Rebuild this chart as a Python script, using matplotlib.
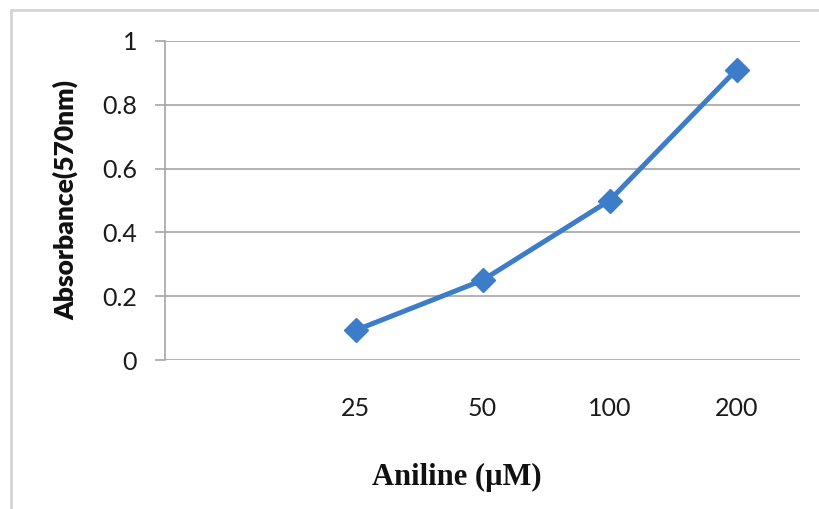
import matplotlib.pyplot as plt
from matplotlib.patches import Rectangle

# data (first category slot is empty)
categories = ['', '25', '50', '100', '200']
absorbance = [None, 0.093, 0.25, 0.50, 0.91]
y_ticks = [0, 0.2, 0.4, 0.6, 0.8, 1]
y_tick_labels = ['0', '0.2', '0.4', '0.6', '0.8', '1']

W, H = 819, 509
fig = plt.figure(figsize=(W / 100, H / 100), dpi=100)

# light frame of the chart area (open on right and bottom)
fig.patches.append(Rectangle((11 / W, -0.1), 1.2, (H - 10) / H + 0.1,
                             transform=fig.transFigure, fill=False,
                             edgecolor='#d4d4d4', linewidth=2))

left, right, top, bottom = 165, 800, 41, 360
ax = fig.add_axes([left / W, (H - bottom) / H, (right - left) / W, (bottom - top) / H])

xs = [i + 0.5 for i, v in enumerate(absorbance) if v is not None]
ys = [v for v in absorbance if v is not None]
ax.plot(xs, ys, color='#3d7cc9', linewidth=3.6, marker='D', markersize=12,
        markerfacecolor='#3d7cc9', markeredgecolor='#3d7cc9', zorder=3)

ax.set_xlim(0, len(categories))
ax.set_ylim(0, 1)
ax.set_yticks(y_ticks)
ax.set_yticklabels(y_tick_labels, fontfamily='Lato', fontsize=18, color='#1a1a1a')
ax.set_xticks([i + 0.5 for i in range(len(categories))])
ax.set_xticklabels(categories, fontfamily='Lato', fontsize=18, color='#1a1a1a')
ax.tick_params(axis='x', length=0, pad=27)
ax.tick_params(axis='y', length=7, color='#a6a6a6', width=1.2, pad=13)

ax.grid(axis='y', color='#a6a6a6', linewidth=1.2)
ax.set_axisbelow(True)
for s in ['top', 'right', 'bottom']:
    ax.spines[s].set_visible(False)
ax.spines['left'].set_color('#a6a6a6')
ax.spines['left'].set_linewidth(1.2)

fig.text(66 / W, (H - 200) / H, 'Absorbance(570nm)', rotation=90, ha='center', va='center',
         fontfamily='Lato', fontweight='heavy', fontsize=19, color='#111111')
fig.text(457 / W, (H - 477) / H, 'Aniline (µM)', ha='center', va='center',
         fontfamily='Liberation Serif', fontweight='bold', fontsize=22, color='#111111')

fig.savefig('out.png', dpi=100)
